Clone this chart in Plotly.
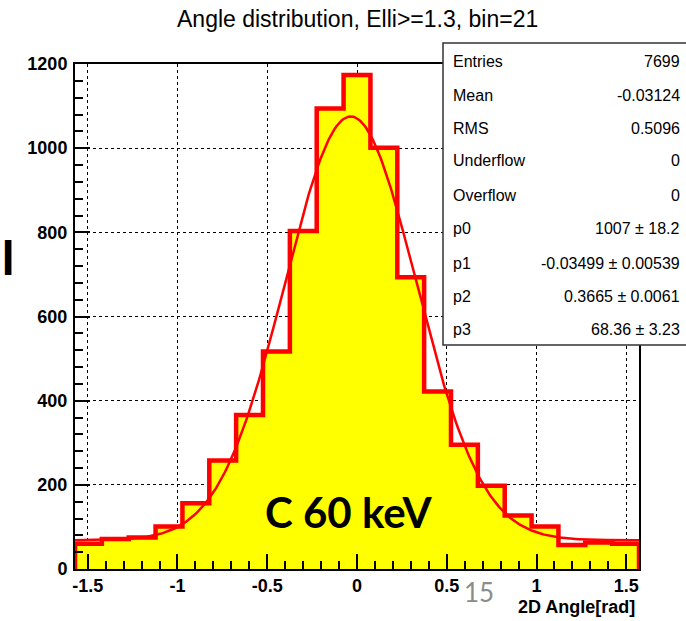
import numpy as np
import plotly.graph_objects as go

# ---- data ----
n_bins = 21
x_min, x_max = -np.pi / 2, np.pi / 2
counts = [60, 71, 75, 101, 156, 258, 366, 517, 803, 1094, 1174,
          1001, 693, 422, 295, 198, 127, 101, 57, 63, 60]
fit_params = {"p0": 1007.0, "p1": -0.03499, "p2": 0.3665, "p3": 68.36}
stat_labels = ["Entries", "Mean", "RMS", "Underflow", "Overflow", "p0", "p1", "p2", "p3"]
stat_values = ["7699", "-0.03124", "0.5096", "0", "0",
               "1007 ± 18.2", "-0.03499 ± 0.00539", "0.3665 ± 0.0061", "68.36 ± 3.23"]
x_ticks = [-1.5, -1, -0.5, 0, 0.5, 1, 1.5]
x_ticktext = ["-1.5", "-1", "-0.5", "0", "0.5", "1", "1.5"]
y_ticks = [0, 200, 400, 600, 800, 1000, 1200]

# ---- layout geometry (pixels) ----
W, H = 686, 621
L, R, T, B = 75, 47, 64, 52
PW, PH = W - L - R, H - T - B


def px(xp):
    return (xp - L) / PW


def py(yp):
    return (H - B - yp) / PH


edges = np.linspace(x_min, x_max, n_bins + 1)
hx = [edges[0]] + list(edges[:-1]) + [edges[-1], edges[-1]]
hy = [0] + counts + [counts[-1], 0]

xf = np.linspace(x_min, x_max, 400)
p = fit_params
yf = p["p0"] * np.exp(-0.5 * ((xf - p["p1"]) / p["p2"]) ** 2) + p["p3"]

fig = go.Figure()
fig.add_trace(go.Scatter(x=hx, y=hy, mode="lines", line=dict(shape="hv", color="#ff0000", width=4.5),
                         fill="tozeroy", fillcolor="#ffff00", hoverinfo="skip"))
fig.add_trace(go.Scatter(x=xf, y=yf, mode="lines", line=dict(color="#ff0000", width=2.5),
                         hoverinfo="skip"))

axis_font = dict(family="Liberation Sans", size=18, color="black", weight="bold")
fig.update_xaxes(range=[x_min, x_max], tickvals=x_ticks, ticktext=x_ticktext,
                 ticks="inside", ticklen=15, tickwidth=1.5, tickcolor="black",
                 showline=True, linecolor="black", linewidth=1.5, mirror=True,
                 showgrid=True, gridcolor="black", griddash="dot", gridwidth=1.2,
                 zeroline=False, tickfont=axis_font,
                 minor=dict(dtick=0.1, tick0=0, ticks="inside", ticklen=8, tickwidth=1.5,
                            tickcolor="black", showgrid=False))
fig.update_yaxes(range=[0, 1200], tickvals=y_ticks,
                 ticks="inside", ticklen=15, tickwidth=1.5, tickcolor="black",
                 showline=True, linecolor="black", linewidth=2, mirror=True,
                 showgrid=True, gridcolor="black", griddash="dot", gridwidth=1.2,
                 zeroline=False, tickfont=axis_font, ticklabelstandoff=2,
                 minor=dict(dtick=40, tick0=0, ticks="inside", ticklen=8, tickwidth=1.5,
                            tickcolor="black", showgrid=False))

shapes = [dict(type="rect", xref="paper", yref="paper",
               x0=px(443), x1=px(700), y0=py(345), y1=py(43),
               fillcolor="white", line=dict(color="#333333", width=1.5), layer="above")]

ann = []
ann.append(dict(text="Angle distribution, Elli>=1.3, bin=21", x=px(357), y=py(19),
                xref="paper", yref="paper", showarrow=False, xanchor="center", yanchor="middle",
                font=dict(family="Liberation Sans", size=23, color="black")))
row_y = [61, 95, 128, 161, 195, 229, 263, 296, 329]
for lab, val, yy in zip(stat_labels, stat_values, row_y):
    ann.append(dict(text=lab, x=px(451), y=py(yy), xref="paper", yref="paper", showarrow=False,
                    xanchor="left", yanchor="middle",
                    font=dict(family="Liberation Sans", size=16, color="black")))
    ann.append(dict(text=val, x=px(682), y=py(yy), xref="paper", yref="paper", showarrow=False,
                    xanchor="right", yanchor="middle",
                    font=dict(family="Liberation Sans", size=16, color="black")))
ann.append(dict(text="C 60 keV", x=px(348), y=py(512), xref="paper", yref="paper", showarrow=False,
                xanchor="center", yanchor="middle",
                font=dict(family="Lato", size=42, color="black", weight="bold")))
ann.append(dict(text="2D Angle[rad]", x=px(637), y=py(607), xref="paper", yref="paper",
                showarrow=False, xanchor="right", yanchor="middle",
                font=dict(family="Liberation Sans", size=18, color="black", weight="bold")))
ann.append(dict(text="15", x=px(479), y=py(592), xref="paper", yref="paper", showarrow=False,
                xanchor="center", yanchor="middle",
                font=dict(family="Lato", size=26, color="#8c8c8c")))
ann.append(dict(text="I", x=px(8), y=py(256), xref="paper", yref="paper", showarrow=False,
                xanchor="center", yanchor="middle",
                font=dict(family="Lato", size=48, color="black", weight="bold")))

fig.update_layout(width=W, height=H, margin=dict(l=L, r=R, t=T, b=B),
                  paper_bgcolor="white", plot_bgcolor="white", showlegend=False,
                  shapes=shapes, annotations=ann)
fig.write_html("out.html", config={"displayModeBar": False},
               post_script="document.body.style.margin='0';document.body.style.padding='0';")
